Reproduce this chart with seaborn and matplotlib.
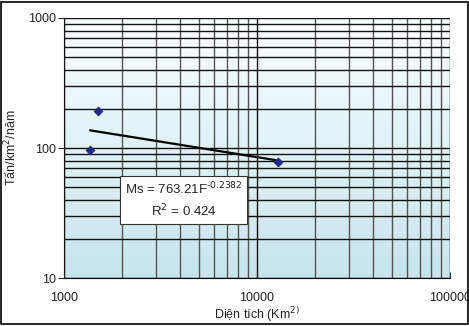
import matplotlib
matplotlib.use('Agg')
import matplotlib.pyplot as plt
import matplotlib.ticker as mticker
import numpy as np
import pandas as pd
import seaborn as sns

# Data
area = [1364, 1500, 12890]
load = [96.5, 192, 78.5]
fit_coef = 763.21
fit_exp = -0.2382
r2 = 0.424

sns.set_style('white')
plt.rcParams['font.family'] = ['Liberation Sans', 'DejaVu Sans']
plt.rcParams['axes.unicode_minus'] = False

df = pd.DataFrame({'area': area, 'load': load})
fit_x = np.array([min(area), max(area)])
fit_df = pd.DataFrame({'area': fit_x, 'load': fit_coef * fit_x ** fit_exp})

fig = plt.figure(figsize=(4.69, 3.26), dpi=100)
ax = fig.add_axes([0.1365, 0.147, 0.823, 0.798])

# gradient background
grad = np.linspace(0, 1, 256).reshape(-1, 1)
cmap = matplotlib.colors.LinearSegmentedColormap.from_list('bg', ['#c6e5eb', '#fbfefe'])
ax.imshow(grad, extent=[0, 1, 0, 1], transform=ax.transAxes, cmap=cmap,
          aspect='auto', origin='lower', zorder=0)

ax.set_xscale('log')
ax.set_yscale('log')
ax.set_xlim(1000, 100000)
ax.set_ylim(10, 1000)

ax.xaxis.set_major_locator(mticker.FixedLocator([1000, 10000, 100000]))
ax.yaxis.set_major_locator(mticker.FixedLocator([10, 100, 1000]))
ax.xaxis.set_major_formatter(mticker.FormatStrFormatter('%d'))
ax.yaxis.set_major_formatter(mticker.FormatStrFormatter('%d'))
ax.xaxis.set_minor_locator(mticker.LogLocator(base=10, subs=np.arange(2, 10)))
ax.yaxis.set_minor_locator(mticker.LogLocator(base=10, subs=np.arange(2, 10)))
ax.xaxis.set_minor_formatter(mticker.NullFormatter())
ax.yaxis.set_minor_formatter(mticker.NullFormatter())

ax.grid(True, which='both', axis='y', color='#111111', lw=1.0, zorder=1)
ax.grid(True, which='major', axis='x', color='#111111', lw=1.0, zorder=1)
ax.grid(True, which='minor', axis='x', color='#555555', lw=1.0, zorder=1)
ax.set_axisbelow(False)

sns.lineplot(data=fit_df, x='area', y='load', color='black', lw=1.6, ax=ax, zorder=3)
sns.scatterplot(data=df, x='area', y='load', marker='D', s=22, color='#1f2b80',
                edgecolor='#1f2b80', ax=ax, zorder=4)

for s in ax.spines.values():
    s.set_visible(False)
ax.spines['left'].set_visible(True)
ax.spines['bottom'].set_visible(True)
ax.spines['left'].set_color('black')
ax.spines['bottom'].set_color('black')

ax.tick_params(axis='y', which='major', length=4, width=0.8, direction='out',
               left=True, labelsize=9, pad=2)
ax.tick_params(axis='y', which='minor', length=0)
ax.tick_params(axis='x', which='major', length=4, width=0.8, direction='in',
               bottom=True, labelsize=9, pad=10)
ax.tick_params(axis='x', which='minor', length=0)

ax.set_xlabel('Diện tích (Km$^{2)}$', fontsize=9, labelpad=1)
ax.set_ylabel('Tấn/km$^2$/năm', fontsize=9, labelpad=6)

eq = 'Ms = %.2fF$^{\u20100.2382}$\nR$^2$ = %.3f' % (fit_coef, r2)
ax.text(0.31, 0.30, eq, transform=ax.transAxes, ha='center', va='center',
        fontsize=9.5, linespacing=1.35, zorder=5,
        bbox=dict(boxstyle='square,pad=0.35', fc='white', ec='#333333', lw=0.8))

# outer frame
fig.patches.append(plt.Rectangle((0.003, 0.005), 0.994, 0.99, transform=fig.transFigure,
                                 fill=False, ec='black', lw=1.2))

fig.savefig('out.png', dpi=100)
